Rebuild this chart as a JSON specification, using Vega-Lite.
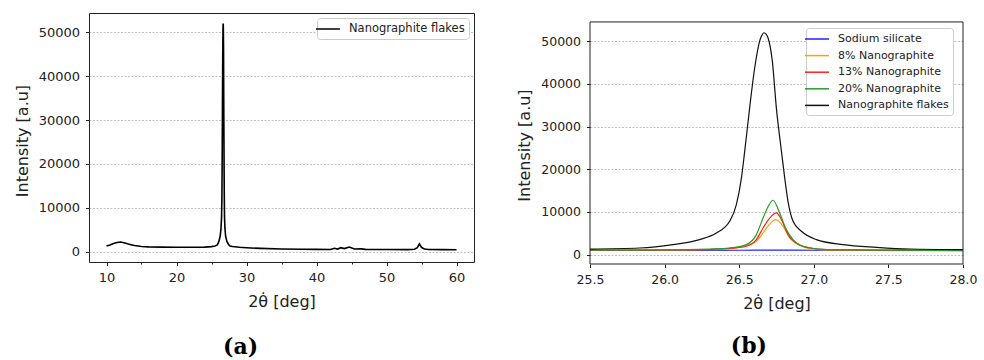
{
  "$schema": "https://vega.github.io/schema/vega-lite/v6.json",
  "padding": {"left": 13, "top": 12, "right": 0, "bottom": 0},
  "spacing": 41,
  "background": "white",
  "config": {
    "font": "DejaVu Sans",
    "view": {"stroke": "#222", "strokeWidth": 1},
    "axis": {
      "labelFont": "DejaVu Sans", "titleFont": "DejaVu Sans",
      "labelColor": "#222", "titleColor": "#222", "tickColor": "#222",
      "domain": false, "grid": false, "labelFontSize": 13, "titleFontSize": 16,
      "titleFontWeight": "normal", "tickWidth": 1, "labelFlush": false
    },
    "axisY": {"grid": true, "gridColor": "#b0b0b0", "gridDash": [2, 1.5], "gridWidth": 0.8, "titlePadding": 8, "tickSize": 3.5, "labelPadding": 6},
    "axisX": {"titlePadding": 9.5, "labelPadding": 5.5},
    "legend": {
      "title": null, "fillColor": "white", "strokeColor": "#cccccc", "cornerRadius": 3,
      "padding": 4, "labelFont": "DejaVu Sans", "labelFontSize": 11.5, "labelColor": "#222",
      "symbolType": "M-2,0H2", "symbolSize": 144, "symbolStrokeWidth": 1.5, "labelOffset": 14, "rowPadding": 3
    }
  },
  "resolve": {"scale": {"color": "independent"}, "legend": {"color": "independent"}},
  "datasets": {
    "flakes": [
      {"sample": "Nanographite flakes", "two_theta": 10, "intensity": 1300},
      {"sample": "Nanographite flakes", "two_theta": 10.5, "intensity": 1500},
      {"sample": "Nanographite flakes", "two_theta": 11, "intensity": 1850},
      {"sample": "Nanographite flakes", "two_theta": 11.5, "intensity": 2100},
      {"sample": "Nanographite flakes", "two_theta": 12, "intensity": 2200},
      {"sample": "Nanographite flakes", "two_theta": 12.5, "intensity": 2050},
      {"sample": "Nanographite flakes", "two_theta": 13, "intensity": 1800},
      {"sample": "Nanographite flakes", "two_theta": 13.5, "intensity": 1600},
      {"sample": "Nanographite flakes", "two_theta": 14, "intensity": 1400},
      {"sample": "Nanographite flakes", "two_theta": 15, "intensity": 1200},
      {"sample": "Nanographite flakes", "two_theta": 16, "intensity": 1100},
      {"sample": "Nanographite flakes", "two_theta": 18, "intensity": 1050},
      {"sample": "Nanographite flakes", "two_theta": 20, "intensity": 1000},
      {"sample": "Nanographite flakes", "two_theta": 22, "intensity": 1000},
      {"sample": "Nanographite flakes", "two_theta": 24, "intensity": 1050},
      {"sample": "Nanographite flakes", "two_theta": 25, "intensity": 1150},
      {"sample": "Nanographite flakes", "two_theta": 25.5, "intensity": 1300},
      {"sample": "Nanographite flakes", "two_theta": 25.833, "intensity": 1550},
      {"sample": "Nanographite flakes", "two_theta": 26.056, "intensity": 2350},
      {"sample": "Nanographite flakes", "two_theta": 26.235, "intensity": 3520},
      {"sample": "Nanographite flakes", "two_theta": 26.347, "intensity": 5070},
      {"sample": "Nanographite flakes", "two_theta": 26.436, "intensity": 7820},
      {"sample": "Nanographite flakes", "two_theta": 26.481, "intensity": 11730},
      {"sample": "Nanographite flakes", "two_theta": 26.515, "intensity": 17980},
      {"sample": "Nanographite flakes", "two_theta": 26.537, "intensity": 24250},
      {"sample": "Nanographite flakes", "two_theta": 26.57, "intensity": 34400},
      {"sample": "Nanographite flakes", "two_theta": 26.604, "intensity": 43790},
      {"sample": "Nanographite flakes", "two_theta": 26.637, "intensity": 50050},
      {"sample": "Nanographite flakes", "two_theta": 26.652, "intensity": 51400},
      {"sample": "Nanographite flakes", "two_theta": 26.666, "intensity": 52000},
      {"sample": "Nanographite flakes", "two_theta": 26.68, "intensity": 51700},
      {"sample": "Nanographite flakes", "two_theta": 26.693, "intensity": 50830},
      {"sample": "Nanographite flakes", "two_theta": 26.722, "intensity": 45360},
      {"sample": "Nanographite flakes", "two_theta": 26.749, "intensity": 34400},
      {"sample": "Nanographite flakes", "two_theta": 26.783, "intensity": 24250},
      {"sample": "Nanographite flakes", "two_theta": 26.805, "intensity": 17980},
      {"sample": "Nanographite flakes", "two_theta": 26.827, "intensity": 12500},
      {"sample": "Nanographite flakes", "two_theta": 26.861, "intensity": 7820},
      {"sample": "Nanographite flakes", "two_theta": 26.917, "intensity": 5470},
      {"sample": "Nanographite flakes", "two_theta": 27.017, "intensity": 3520},
      {"sample": "Nanographite flakes", "two_theta": 27.196, "intensity": 2350},
      {"sample": "Nanographite flakes", "two_theta": 27.42, "intensity": 1710},
      {"sample": "Nanographite flakes", "two_theta": 27.643, "intensity": 1310},
      {"sample": "Nanographite flakes", "two_theta": 28, "intensity": 1170},
      {"sample": "Nanographite flakes", "two_theta": 29, "intensity": 1000},
      {"sample": "Nanographite flakes", "two_theta": 30, "intensity": 900},
      {"sample": "Nanographite flakes", "two_theta": 32, "intensity": 750},
      {"sample": "Nanographite flakes", "two_theta": 35, "intensity": 620},
      {"sample": "Nanographite flakes", "two_theta": 38, "intensity": 560},
      {"sample": "Nanographite flakes", "two_theta": 40, "intensity": 520},
      {"sample": "Nanographite flakes", "two_theta": 42, "intensity": 500},
      {"sample": "Nanographite flakes", "two_theta": 42.57, "intensity": 770},
      {"sample": "Nanographite flakes", "two_theta": 43, "intensity": 600},
      {"sample": "Nanographite flakes", "two_theta": 43.5, "intensity": 910},
      {"sample": "Nanographite flakes", "two_theta": 43.96, "intensity": 700},
      {"sample": "Nanographite flakes", "two_theta": 44.7, "intensity": 1070},
      {"sample": "Nanographite flakes", "two_theta": 45.4, "intensity": 610},
      {"sample": "Nanographite flakes", "two_theta": 46.4, "intensity": 650},
      {"sample": "Nanographite flakes", "two_theta": 47, "intensity": 520},
      {"sample": "Nanographite flakes", "two_theta": 50, "intensity": 500},
      {"sample": "Nanographite flakes", "two_theta": 53, "intensity": 480},
      {"sample": "Nanographite flakes", "two_theta": 54, "intensity": 550},
      {"sample": "Nanographite flakes", "two_theta": 54.4, "intensity": 900},
      {"sample": "Nanographite flakes", "two_theta": 54.7, "intensity": 1800},
      {"sample": "Nanographite flakes", "two_theta": 55, "intensity": 1000},
      {"sample": "Nanographite flakes", "two_theta": 55.4, "intensity": 600},
      {"sample": "Nanographite flakes", "two_theta": 56, "intensity": 500},
      {"sample": "Nanographite flakes", "two_theta": 58, "intensity": 470},
      {"sample": "Nanographite flakes", "two_theta": 60, "intensity": 450}
    ],
    "composites": [
      {"sample": "Sodium silicate", "two_theta": 25.5, "intensity": 1000},
      {"sample": "Sodium silicate", "two_theta": 26.0, "intensity": 1000},
      {"sample": "Sodium silicate", "two_theta": 26.5, "intensity": 1020},
      {"sample": "Sodium silicate", "two_theta": 26.7, "intensity": 1050},
      {"sample": "Sodium silicate", "two_theta": 27.0, "intensity": 1020},
      {"sample": "Sodium silicate", "two_theta": 27.5, "intensity": 1000},
      {"sample": "Sodium silicate", "two_theta": 28.0, "intensity": 1000},
      {"sample": "8% Nanographite", "two_theta": 25.5, "intensity": 1000},
      {"sample": "8% Nanographite", "two_theta": 26.0, "intensity": 1050},
      {"sample": "8% Nanographite", "two_theta": 26.3, "intensity": 1150},
      {"sample": "8% Nanographite", "two_theta": 26.45, "intensity": 1400},
      {"sample": "8% Nanographite", "two_theta": 26.55, "intensity": 2100},
      {"sample": "8% Nanographite", "two_theta": 26.615, "intensity": 3130},
      {"sample": "8% Nanographite", "two_theta": 26.66, "intensity": 5070},
      {"sample": "8% Nanographite", "two_theta": 26.7, "intensity": 7000},
      {"sample": "8% Nanographite", "two_theta": 26.745, "intensity": 8210},
      {"sample": "8% Nanographite", "two_theta": 26.794, "intensity": 6640},
      {"sample": "8% Nanographite", "two_theta": 26.838, "intensity": 3900},
      {"sample": "8% Nanographite", "two_theta": 26.894, "intensity": 2350},
      {"sample": "8% Nanographite", "two_theta": 26.973, "intensity": 1400},
      {"sample": "8% Nanographite", "two_theta": 27.1, "intensity": 1050},
      {"sample": "8% Nanographite", "two_theta": 27.5, "intensity": 950},
      {"sample": "8% Nanographite", "two_theta": 28.0, "intensity": 900},
      {"sample": "13% Nanographite", "two_theta": 25.5, "intensity": 1000},
      {"sample": "13% Nanographite", "two_theta": 26.0, "intensity": 1050},
      {"sample": "13% Nanographite", "two_theta": 26.3, "intensity": 1200},
      {"sample": "13% Nanographite", "two_theta": 26.45, "intensity": 1500},
      {"sample": "13% Nanographite", "two_theta": 26.548, "intensity": 1950},
      {"sample": "13% Nanographite", "two_theta": 26.615, "intensity": 3520},
      {"sample": "13% Nanographite", "two_theta": 26.66, "intensity": 6240},
      {"sample": "13% Nanographite", "two_theta": 26.71, "intensity": 8800},
      {"sample": "13% Nanographite", "two_theta": 26.749, "intensity": 9770},
      {"sample": "13% Nanographite", "two_theta": 26.783, "intensity": 8210},
      {"sample": "13% Nanographite", "two_theta": 26.827, "intensity": 4690},
      {"sample": "13% Nanographite", "two_theta": 26.883, "intensity": 2720},
      {"sample": "13% Nanographite", "two_theta": 26.973, "intensity": 1550},
      {"sample": "13% Nanographite", "two_theta": 27.1, "intensity": 1150},
      {"sample": "13% Nanographite", "two_theta": 27.5, "intensity": 1000},
      {"sample": "13% Nanographite", "two_theta": 28.0, "intensity": 950},
      {"sample": "20% Nanographite", "two_theta": 25.5, "intensity": 1050},
      {"sample": "20% Nanographite", "two_theta": 26.0, "intensity": 1100},
      {"sample": "20% Nanographite", "two_theta": 26.3, "intensity": 1300},
      {"sample": "20% Nanographite", "two_theta": 26.436, "intensity": 1550},
      {"sample": "20% Nanographite", "two_theta": 26.548, "intensity": 2350},
      {"sample": "20% Nanographite", "two_theta": 26.615, "intensity": 4690},
      {"sample": "20% Nanographite", "two_theta": 26.66, "intensity": 8600},
      {"sample": "20% Nanographite", "two_theta": 26.69, "intensity": 11000},
      {"sample": "20% Nanographite", "two_theta": 26.727, "intensity": 12740},
      {"sample": "20% Nanographite", "two_theta": 26.771, "intensity": 9770},
      {"sample": "20% Nanographite", "two_theta": 26.816, "intensity": 5870},
      {"sample": "20% Nanographite", "two_theta": 26.861, "intensity": 3520},
      {"sample": "20% Nanographite", "two_theta": 26.928, "intensity": 1950},
      {"sample": "20% Nanographite", "two_theta": 27.084, "intensity": 1170},
      {"sample": "20% Nanographite", "two_theta": 27.5, "intensity": 1050},
      {"sample": "20% Nanographite", "two_theta": 28.0, "intensity": 1000}
    ]
  },
  "hconcat": [
    {
      "width": 385,
      "height": 249,
      "title": {"text": "(a)", "orient": "bottom", "anchor": "middle", "frame": "bounds", "font": "DejaVu Serif", "fontWeight": "bold", "fontSize": 22, "offset": 27, "dx": -3.5, "color": "#000"},
      "data": {"name": "flakes"},
      "mark": {"type": "line", "strokeWidth": 1.6, "clip": true},
      "encoding": {
        "x": {
          "field": "two_theta", "type": "quantitative",
          "scale": {"domain": [7.5, 62.5], "nice": false, "zero": false},
          "axis": {
            "values": [10, 15, 20, 25, 30, 35, 40, 45, 50, 55, 60],
            "labelExpr": "datum.value % 10 === 0 ? datum.label : ''",
            "tickSize": {"condition": {"test": "datum.value % 10 === 0", "value": 3.5}, "value": 2},
            "title": "2θ̇ [deg]", "format": "d"
          }
        },
        "y": {
          "field": "intensity", "type": "quantitative",
          "scale": {"domain": [-2350, 54400], "nice": false, "zero": false},
          "axis": {"values": [0, 10000, 20000, 30000, 40000, 50000], "format": "d", "title": "Intensity [a.u]", "titleY": 127.5}
        },
        "color": {
          "field": "sample", "type": "nominal",
          "scale": {"domain": ["Nanographite flakes"], "range": ["#000000"]},
          "legend": {"orient": "top-right", "offset": 5}
        }
      }
    },
    {
      "width": 373,
      "height": 251,
      "view": {"stroke": null},
      "title": {"text": "(b)", "orient": "bottom", "anchor": "middle", "frame": "bounds", "font": "DejaVu Serif", "fontWeight": "bold", "fontSize": 22, "offset": 25, "dx": 2, "color": "#000"},
      "layer": [
        {
          "data": {"name": "composites"},
          "mark": {"type": "line", "strokeWidth": 1.2, "clip": true, "interpolate": "monotone"},
          "encoding": {
            "x": {
              "field": "two_theta", "type": "quantitative",
              "scale": {"domain": [25.5, 28.0], "nice": false, "zero": false},
              "axis": {
                "values": [25.5, 25.75, 26.0, 26.25, 26.5, 26.75, 27.0, 27.25, 27.5, 27.75, 28.0],
                "labelExpr": "round(datum.value * 4) % 2 === 0 ? format(datum.value, '.1f') : ''",
                "tickSize": {"condition": {"test": "round(datum.value * 4) % 2 === 0", "value": 3.5}, "value": 2},
                "title": "2θ̇ [deg]", "labelFontSize": 12.5
              }
            },
            "y": {
              "field": "intensity", "type": "quantitative",
              "scale": {"domain": [-2200, 56630], "nice": false, "zero": false},
              "axis": {"values": [0, 10000, 20000, 30000, 40000, 50000], "format": "d", "title": "Intensity [a.u]", "labelFontSize": 12.5, "titleY": 132}
            },
            "color": {
              "field": "sample", "type": "nominal",
              "scale": {
                "domain": ["Sodium silicate", "8% Nanographite", "13% Nanographite", "20% Nanographite", "Nanographite flakes"],
                "range": ["#2020ff", "#ffa500", "#ff2020", "#2a9a2a", "#111111"]
              },
              "legend": {"orient": "none", "legendX": 216, "legendY": 15, "labelFontSize": 11, "rowPadding": 4.6}
            }
          }
        },
        {
          "data": {"name": "flakes"},
          "transform": [{"filter": {"field": "two_theta", "range": [25.5, 28.0]}}],
          "mark": {"type": "line", "strokeWidth": 1.2, "clip": true, "interpolate": "monotone"},
          "encoding": {
            "x": {"field": "two_theta", "type": "quantitative"},
            "y": {"field": "intensity", "type": "quantitative"},
            "color": {"field": "sample", "type": "nominal"}
          }
        },
        {
          "data": {"values": [{}]},
          "mark": {"type": "rule", "color": "#222", "strokeWidth": 1},
          "encoding": {"y": {"datum": 54530}}
        },
        {
          "data": {"values": [{}]},
          "mark": {"type": "rule", "color": "#222", "strokeWidth": 1},
          "encoding": {"y": {"datum": -2200}}
        },
        {
          "data": {"values": [{}]},
          "mark": {"type": "rule", "color": "#222", "strokeWidth": 1},
          "encoding": {"x": {"datum": 25.5}, "y": {"datum": -2200}, "y2": {"datum": 54530}}
        },
        {
          "data": {"values": [{}]},
          "mark": {"type": "rule", "color": "#222", "strokeWidth": 1},
          "encoding": {"x": {"datum": 28.0}, "y": {"datum": -2200}, "y2": {"datum": 54530}}
        }
      ]
    }
  ]
}
